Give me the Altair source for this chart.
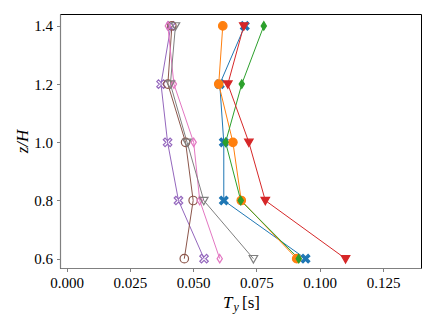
import altair as alt
import pandas as pd

Z = [0.6, 0.8, 1.0, 1.2, 1.4]
SERIES = ["s1", "s2", "s3", "s4", "s5", "s6", "s7", "s8"]
T_S1 = [0.0944, 0.0621, 0.0621, 0.0605, 0.0704]
T_S2 = [0.0909, 0.0690, 0.0657, 0.0601, 0.0617]
T_S3 = [0.0917, 0.0688, 0.0628, 0.0692, 0.0779]
T_S4 = [0.1102, 0.0785, 0.0720, 0.0637, 0.0700]
T_S5 = [0.0543, 0.0442, 0.0399, 0.0373, 0.0412]
T_S6 = [0.0465, 0.0500, 0.0470, 0.0400, 0.0416]
T_S7 = [0.0605, 0.0526, 0.0502, 0.0424, 0.0400]
T_S8 = [0.0738, 0.0542, 0.0476, 0.0410, 0.0430]
VALUES = [T_S1, T_S2, T_S3, T_S4, T_S5, T_S6, T_S7, T_S8]

COLORS = ["#1f77b4", "#ff7f0e", "#2ca02c", "#d62728",
          "#9467bd", "#8c564b", "#e377c2", "#7f7f7f"]
X_PATH = ("M-1,-0.6L-0.6,-1L0,-0.4L0.6,-1L1,-0.6L0.4,0L1,0.6L0.6,1"
          "L0,0.4L-0.6,1L-1,0.6L-0.4,0Z")
DIAMOND = "M0,-1L0.62,0L0,1L-0.62,0Z"
TRI_DOWN = "M-1,-0.75L1,-0.75L0,1Z"
SHAPES = [X_PATH, "circle", DIAMOND, TRI_DOWN, X_PATH, "circle", DIAMOND, TRI_DOWN]
FILLED = [1, 1, 1, 1, 0, 0, 0, 0]

X_TICKS = [0.0, 0.025, 0.05, 0.075, 0.1, 0.125]
Y_TICKS = [0.6, 0.8, 1.0, 1.2, 1.4]

rows = []
for s, vals, f in zip(SERIES, VALUES, FILLED):
    for z, t in zip(Z, vals):
        rows.append({"series": s, "z": z, "T": t, "filled": f})
df = pd.DataFrame(rows)

FONT = "'Liberation Serif', 'Times New Roman', serif"
W, H = 361, 254

xenc = alt.X("T:Q",
             scale=alt.Scale(domain=[-0.0026, 0.14], nice=False, zero=False),
             axis=alt.Axis(values=X_TICKS, format=".3f", grid=False, title=None))
yenc = alt.Y("z:Q",
             scale=alt.Scale(domain=[0.568, 1.441], nice=False, zero=False),
             axis=alt.Axis(values=Y_TICKS, format=".1f", grid=False, title="z/H",
                           titleFont=FONT, titleFontSize=17, titleFontStyle="italic",
                           titleFontWeight="normal", titleColor="black",
                           titleAngle=270, titleAlign="center", titleBaseline="middle",
                           titleX=-38, titleY=H / 2))

base = alt.Chart(df)
lines = base.mark_line(strokeWidth=1).encode(
    x=xenc, y=yenc,
    color=alt.Color("series:N", scale=alt.Scale(domain=SERIES, range=COLORS), legend=None),
    detail="series:N",
    order="z:Q",
)
points = base.mark_point(filled=True, size=72, strokeWidth=1.2, opacity=1).encode(
    x=xenc, y=yenc,
    fill=alt.Fill("series:N", scale=alt.Scale(domain=SERIES, range=COLORS), legend=None),
    stroke=alt.Stroke("series:N", scale=alt.Scale(domain=SERIES, range=COLORS), legend=None),
    shape=alt.Shape("series:N", scale=alt.Scale(domain=SERIES, range=SHAPES), legend=None),
    fillOpacity=alt.FillOpacity("filled:Q", scale=None, legend=None),
)

t_main = alt.Chart(pd.DataFrame({"lab": ["T"]})).mark_text(
    font=FONT, fontSize=17, fontStyle="italic", align="left", baseline="alphabetic",
    color="black").encode(text="lab:N", x=alt.value(163), y=alt.value(294))
t_sub = alt.Chart(pd.DataFrame({"lab": ["y"]})).mark_text(
    font=FONT, fontSize=12, fontStyle="italic", align="left", baseline="alphabetic",
    color="black").encode(text="lab:N", x=alt.value(173.5), y=alt.value(297))
t_unit = alt.Chart(pd.DataFrame({"lab": ["[s]"]})).mark_text(
    font=FONT, fontSize=17, align="left", baseline="alphabetic",
    color="black").encode(text="lab:N", x=alt.value(182), y=alt.value(294))

chart = alt.layer(lines, points, t_main, t_sub, t_unit).properties(
    width=W, height=H,
    autosize=alt.AutoSizeParams(type="none"),
    padding={"left": 52, "top": 6, "right": 7, "bottom": 50},
).configure_view(stroke="black", strokeWidth=1).configure_axis(
    domainColor="#808080", tickColor="#808080", tickSize=3.5, labelPadding=4,
    labelFont=FONT, labelFontSize=15, labelColor="black", domainWidth=1.2,
)

chart.save("out.html", embed_options={"renderer": "svg", "actions": False})
